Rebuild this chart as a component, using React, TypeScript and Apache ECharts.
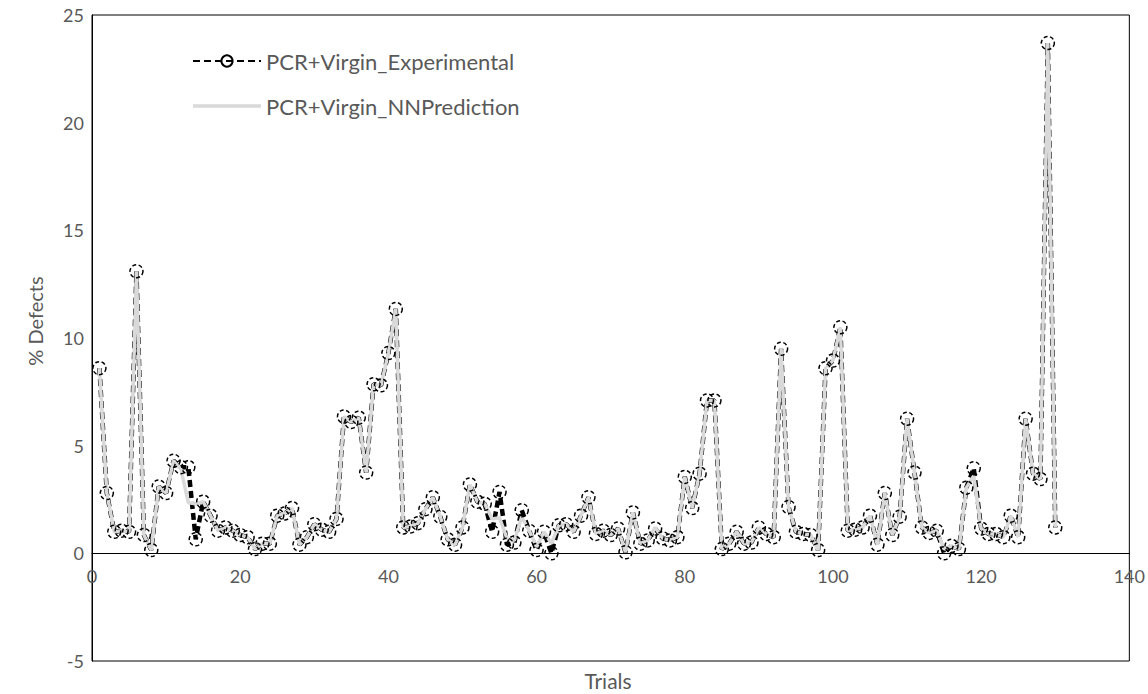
import React, { useEffect, useRef } from "react";
import * as echarts from "echarts";

// Trial numbers 1..130
const trials: number[] = [
  1, 2, 3, 4, 5, 6, 7, 8, 9, 10, 11, 12, 13, 14, 15, 16, 17, 18, 19, 20,
  21, 22, 23, 24, 25, 26, 27, 28, 29, 30, 31, 32, 33, 34, 35, 36, 37, 38, 39, 40,
  41, 42, 43, 44, 45, 46, 47, 48, 49, 50, 51, 52, 53, 54, 55, 56, 57, 58, 59, 60,
  61, 62, 63, 64, 65, 66, 67, 68, 69, 70, 71, 72, 73, 74, 75, 76, 77, 78, 79, 80,
  81, 82, 83, 84, 85, 86, 87, 88, 89, 90, 91, 92, 93, 94, 95, 96, 97, 98, 99, 100,
  101, 102, 103, 104, 105, 106, 107, 108, 109, 110, 111, 112, 113, 114, 115, 116, 117, 118, 119, 120,
  121, 122, 123, 124, 125, 126, 127, 128, 129, 130,
];

// Measured % defects
const experimental: number[] = [
  8.6, 2.8, 1.0, 1.05, 1.0, 13.1, 0.85, 0.15, 3.1, 2.8,
  4.3, 4.0, 4.0, 0.65, 2.4, 1.75, 1.05, 1.2, 1.05, 0.85,
  0.75, 0.2, 0.45, 0.45, 1.75, 1.85, 2.1, 0.4, 0.75, 1.35,
  1.1, 1.0, 1.6, 6.35, 6.1, 6.3, 3.75, 7.85, 7.8, 9.3,
  11.35, 1.2, 1.25, 1.4, 2.05, 2.6, 1.7, 0.65, 0.4, 1.2,
  3.2, 2.4, 2.3, 1.0, 2.85, 0.4, 0.5, 2.0, 1.05, 0.15,
  1.0, 0.0, 1.3, 1.35, 1.0, 1.75, 2.6, 0.9, 1.05, 0.85,
  1.15, 0.05, 1.9, 0.45, 0.6, 1.15, 0.7, 0.6, 0.75, 3.55,
  2.1, 3.7, 7.1, 7.1, 0.2, 0.45, 1.0, 0.45, 0.5, 1.2,
  0.9, 0.75, 9.5, 2.15, 1.0, 0.9, 0.85, 0.15, 8.6, 8.95,
  10.5, 1.05, 1.1, 1.2, 1.75, 0.4, 2.8, 0.85, 1.7, 6.25,
  3.75, 1.2, 0.95, 1.05, 0.0, 0.35, 0.2, 3.05, 3.95, 1.15,
  0.9, 0.9, 0.75, 1.75, 0.75, 6.25, 3.7, 3.45, 23.7, 1.2,
];

// Neural-network predicted % defects
const prediction: number[] = [
  8.6, 2.8, 1.0, 1.05, 1.0, 13.1, 0.85, 0.15, 3.1, 2.8,
  4.3, 3.9, 2.35, 2.3, 2.4, 1.75, 1.05, 1.2, 1.05, 0.85,
  0.75, 0.2, 0.45, 0.45, 1.75, 1.85, 2.1, 0.4, 0.75, 1.35,
  1.1, 1.0, 1.6, 6.35, 6.1, 6.3, 3.75, 7.85, 7.8, 9.3,
  11.35, 1.2, 1.25, 1.4, 2.05, 2.6, 1.7, 0.65, 0.4, 1.2,
  3.2, 2.4, 2.3, 1.6, 1.65, 0.7, 0.6, 1.7, 1.05, 0.3,
  1.0, 0.45, 1.3, 1.35, 1.0, 1.75, 2.6, 0.9, 1.05, 0.85,
  1.15, 0.05, 1.9, 0.45, 0.6, 1.2, 0.7, 0.6, 0.75, 3.55,
  2.1, 3.7, 7.1, 7.1, 0.2, 0.45, 1.0, 0.45, 0.5, 1.2,
  0.9, 0.75, 9.5, 2.15, 1.0, 0.9, 0.85, 0.15, 8.6, 8.95,
  10.5, 1.05, 1.1, 1.2, 1.75, 0.4, 2.8, 0.85, 1.7, 6.25,
  3.75, 1.2, 0.95, 1.05, 0.2, 0.35, 0.2, 3.05, 3.6, 1.15,
  0.9, 0.9, 0.75, 1.75, 0.75, 6.25, 3.7, 3.45, 23.7, 1.2,
];

const EXP_NAME = "PCR+Virgin_Experimental";
const PRED_NAME = "PCR+Virgin_NNPrediction";

const FONT = "Lato, 'Open Sans', sans-serif";
const TEXT_COLOR = "#595959";

// Plot frame (px inside the 1148x694 canvas)
const GRID_TOP = 15;
const GRID_BOTTOM = 33;
const Y_MIN = -5;
const Y_MAX = 25;

export default function App() {
  const ref = useRef<HTMLDivElement>(null);

  useEffect(() => {
    if (!ref.current) return;
    const chart = echarts.init(ref.current, undefined, { renderer: "svg" });

    const expData = trials.map((t, i) => [t, experimental[i]]);
    const predData = trials.map((t, i) => [t, prediction[i]]);

    // Lift the horizontal axis from the frame bottom up to the y = 0 line
    const plotHeight = 694 - GRID_TOP - GRID_BOTTOM;
    const zeroLift = (plotHeight * (0 - Y_MIN)) / (Y_MAX - Y_MIN);

    const markerStyle = {
      color: "rgba(0,0,0,0)",
      borderColor: "#000",
      borderWidth: 1.5,
      borderType: [4, 2.5] as any,
    };

    chart.setOption({
      animation: false,
      backgroundColor: "#fff",
      textStyle: { fontFamily: FONT },
      grid: {
        left: 92,
        right: 15,
        top: GRID_TOP,
        bottom: GRID_BOTTOM,
        show: true,
        borderColor: "#000",
        borderWidth: 1,
        backgroundColor: "transparent",
      },
      legend: {
        data: [
          { name: EXP_NAME },
          {
            name: PRED_NAME,
            icon: "path://M0,0H68V3.5H0Z",
            itemStyle: { color: "#d9d9d9", borderWidth: 0 },
          },
        ],
        orient: "vertical",
        left: 192,
        top: 50,
        padding: 0,
        itemWidth: 68,
        itemHeight: 14,
        itemGap: 23,
        symbolKeepAspect: true,
        textStyle: { color: TEXT_COLOR, fontSize: 22, fontFamily: FONT },
        selectedMode: false,
      },
      xAxis: {
        type: "value",
        min: 0,
        max: 140,
        interval: 20,
        offset: -zeroLift,
        axisLine: { show: true, onZero: false, lineStyle: { color: "#000", width: 1 } },
        axisTick: { show: false },
        splitLine: { show: false },
        axisLabel: { color: TEXT_COLOR, fontSize: 18, margin: 14, fontFamily: FONT },
      },
      yAxis: {
        type: "value",
        min: Y_MIN,
        max: Y_MAX,
        interval: 5,
        axisLine: { show: true, lineStyle: { color: "#000", width: 1 } },
        axisTick: { show: false },
        splitLine: { show: false },
        axisLabel: { color: TEXT_COLOR, fontSize: 18, margin: 8, fontFamily: FONT },
      },
      graphic: [
        {
          type: "text",
          x: 35,
          y: 321,
          rotation: Math.PI / 2,
          style: {
            text: "% Defects",
            fill: TEXT_COLOR,
            font: `20px ${FONT}`,
            textAlign: "center",
            textVerticalAlign: "middle",
          },
        },
        {
          type: "text",
          x: 608,
          y: 680,
          style: {
            text: "Trials",
            fill: TEXT_COLOR,
            font: `21px ${FONT}`,
            textAlign: "center",
            textVerticalAlign: "middle",
          },
        },
      ],
      series: [
        {
          name: EXP_NAME,
          type: "line",
          data: expData,
          z: 2,
          symbol: "circle",
          symbolSize: 13,
          showSymbol: false,
          itemStyle: markerStyle,
          lineStyle: { color: "#000", width: 4.5, type: [7, 4] },
        },
        {
          name: PRED_NAME,
          type: "line",
          data: predData,
          z: 3,
          symbol: "none",
          itemStyle: { color: "#d9d9d9" },
          lineStyle: { color: "#d9d9d9", width: 3.5 },
        },
        {
          name: EXP_NAME,
          type: "line",
          data: expData,
          z: 4,
          symbol: "circle",
          symbolSize: 13,
          showSymbol: true,
          showAllSymbol: true,
          itemStyle: markerStyle,
          lineStyle: { width: 0, opacity: 0 },
        },
      ],
    });

    return () => chart.dispose();
  }, []);

  return (
    <div
      ref={ref}
      style={{ position: "absolute", left: 0, top: 0, width: 1148, height: 694 }}
    />
  );
}
